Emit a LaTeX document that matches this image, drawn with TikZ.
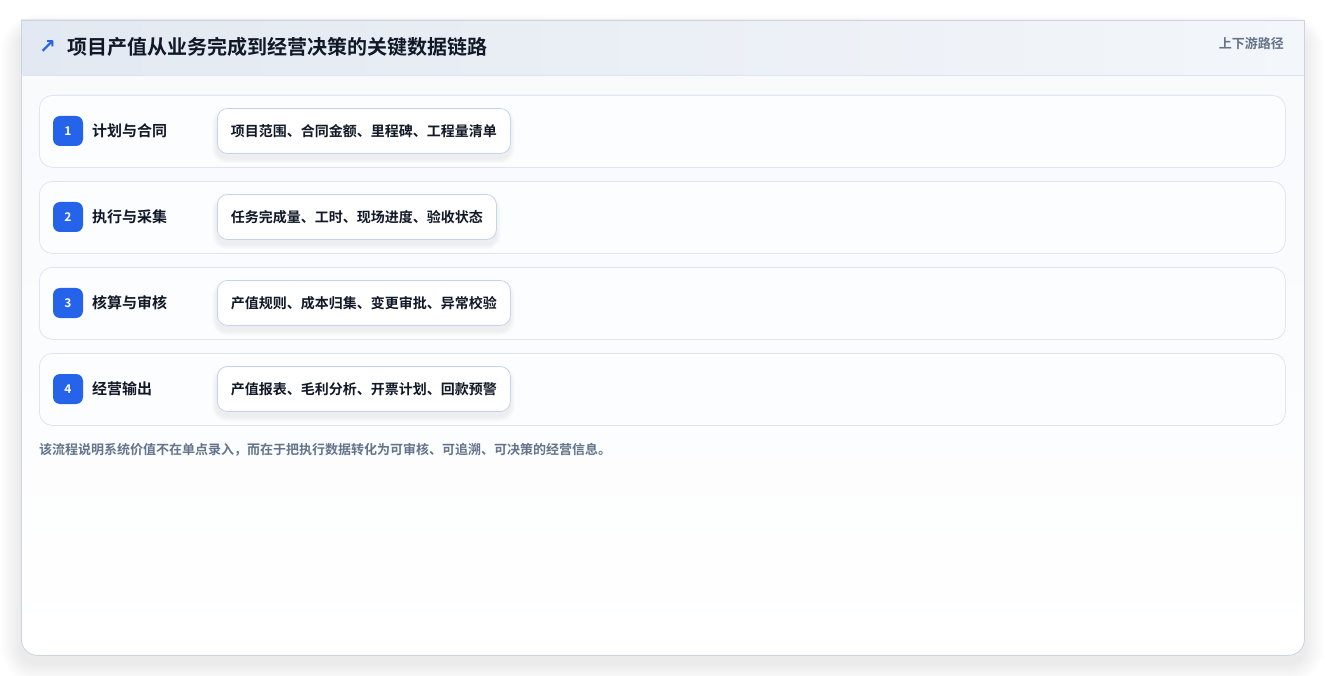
\documentclass[tikz,border=0pt]{standalone}
\usepackage{fontspec}
\setmainfont{Noto Sans CJK SC}
\newfontfamily\cjkb{Noto Sans CJK SC Bold}
\newfontfamily\symf{DejaVu Sans}
\definecolor{cardborder}{HTML}{CDD4DE}
\definecolor{hdrL}{HTML}{E3E9F2}
\definecolor{hdrR}{HTML}{F3F6FA}
\definecolor{sepline}{HTML}{DCE4EF}
\definecolor{rowborder}{HTML}{DDE6F2}
\definecolor{rowfill}{HTML}{FCFDFE}
\definecolor{boxborder}{HTML}{C2D4EE}
\definecolor{accent}{HTML}{2563EB}
\definecolor{ink}{HTML}{111827}
\definecolor{muted}{HTML}{64748B}
\definecolor{cardtop}{HTML}{F7F9FC}
\tikzset{
  card/.style={draw=cardborder, top color=cardtop, bottom color=white, rounded corners=16pt, line width=0.8pt,
    minimum width=1283pt, minimum height=635pt, anchor=north west, inner sep=0pt},
  rowbox/.style={draw=rowborder, fill=rowfill, rounded corners=13pt, line width=0.8pt,
    minimum width=1246pt, minimum height=72pt, anchor=north west, inner sep=0pt},
  badge/.style={fill=accent, rounded corners=7pt, minimum width=30pt, minimum height=30pt,
    inner sep=0pt, text=white, font=\cjkb\fontsize{12}{12}\selectfont},
  steplabel/.style={anchor=west, text=ink, inner sep=0pt, font=\cjkb\fontsize{15}{15}\selectfont},
  databox/.style={draw=boxborder, fill=white, rounded corners=10pt, line width=0.8pt,
    minimum height=45pt, inner xsep=13.5pt, inner ysep=0pt, anchor=west, text=ink,
    font=\cjkb\fontsize{14}{14}\selectfont},
  shadowlayer/.style={fill=black, opacity=0.006},
}
\begin{document}
\begin{tikzpicture}[x=1pt,y=-1pt]
\useasboundingbox (0,0) rectangle (1325,676);
\fill[white] (0,0) rectangle (1325,676);
% card shadow
\foreach \k in {1,...,10}{
  \fill[shadowlayer, rounded corners=16pt+\k*2pt] (21-\k*2,20-\k*1.5+10) rectangle (1304+\k*2,655+\k*2+8);
}
\node[card] (card) at (21,20) {};
\path[left color=hdrL, right color=hdrR] (21,20) rectangle (1304,75);
\draw[cardborder, line width=0.8pt] (21,75) -- (21,20) -- (1304,20) -- (1304,75);
\draw[sepline, line width=0.8pt] (21,75) -- (1304,75);
\node[anchor=west, text=accent, inner sep=0pt, font=\symf\bfseries\fontsize{20}{20}\selectfont] (arrow) at (39,47) {↗};
\node[anchor=west, text=ink, inner sep=0pt, font=\cjkb\fontsize{20}{20}\selectfont] (title) at (67,47) {项目产值从业务完成到经营决策的关键数据链路};
\node[anchor=east, text=muted, inner sep=0pt, font=\cjkb\fontsize{13}{13}\selectfont] (tag) at (1284,44) {上下游路径};
\foreach \i/\y/\lab/\dat/\w in {1/95/计划与合同/项目范围、合同金额、里程碑、工程量清单/293,
                             2/181/执行与采集/任务完成量、工时、现场进度、验收状态/279,
                             3/267/核算与审核/产值规则、成本归集、变更审批、异常校验/293,
                             4/353/经营输出/产值报表、毛利分析、开票计划、回款预警/293}{
  \node[rowbox] (row\i) at (39,\y) {};
  \node[badge] (badge\i) at (68,\y+36) {\i};
  \node[steplabel] (label\i) at (92,\y+36) {\lab};
  \foreach \k in {1,...,5}{
    \fill[shadowlayer, opacity=0.01, rounded corners=10pt+\k*1pt] (217-\k,\y+13.5-\k+5) rectangle (217+\w+\k,\y+58.5+\k+5);
  }
  \node[databox] (data\i) at (217,\y+36) {\dat};
}
\node[anchor=west, text=muted, inner sep=0pt, font=\cjkb\fontsize{13}{13}\selectfont] (note) at (39,450) {该流程说明系统价值不在单点录入，而在于把执行数据转化为可审核、可追溯、可决策的经营信息。};
\end{tikzpicture}
\end{document}
